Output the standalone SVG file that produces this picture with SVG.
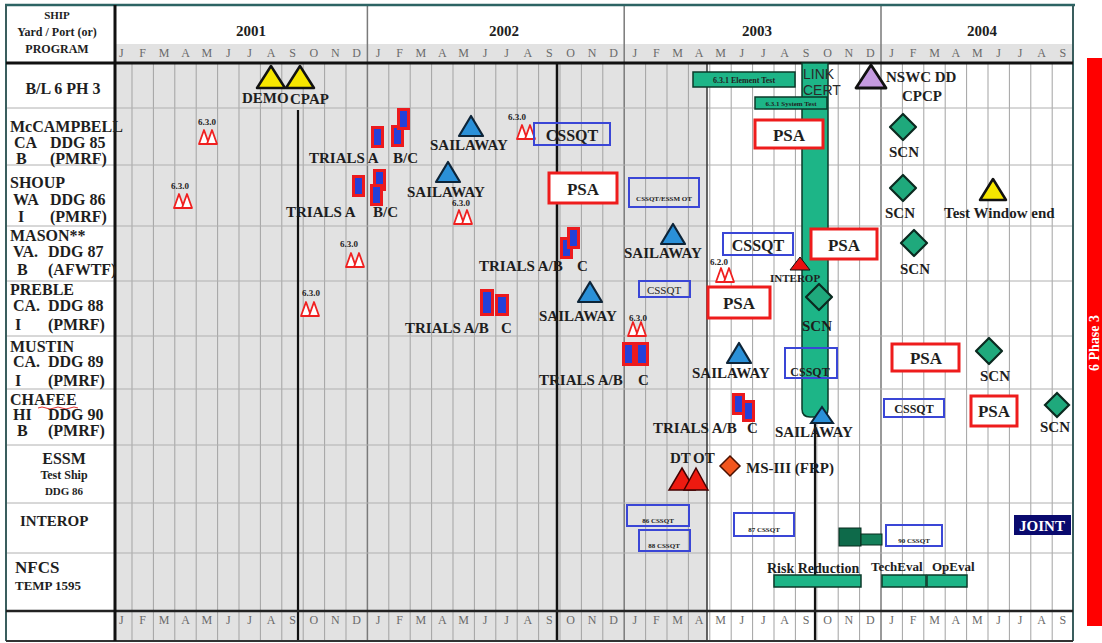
<svg xmlns="http://www.w3.org/2000/svg" xmlns:xlink="http://www.w3.org/1999/xlink" width="1102" height="643" viewBox="0 0 1102 643">
<style>
.t{font-family:"Liberation Serif",serif;font-weight:bold;fill:#1e1e1e}
.c{text-anchor:middle}
.mo{font-family:"Liberation Serif",serif;font-size:12px;fill:#6a6a6a;text-anchor:middle}
.grid{stroke:#a3a3a3;stroke-width:1;fill:none}
.row{stroke:#b0b0b0;stroke-width:1}
.bbox{fill:none;stroke:#3a46d6;stroke-width:2}
.psa{fill:#fff;stroke:#ee1c1c;stroke-width:3}
.grn{fill:#1db587;stroke:#0b3a2a;stroke-width:1.5}
.tiny{font-family:"Liberation Serif",serif;font-weight:bold;fill:#222;text-anchor:middle}
</style>
<defs>
<g id="trial"><rect x="0" y="0" width="13" height="22" fill="#ec1a1e"/><rect x="3" y="3" width="7" height="16" fill="#2440d8"/></g>
<g id="m630"><polygon points="1,15 6,1 11,15" fill="#fff" stroke="#f02020" stroke-width="1.8" stroke-linejoin="round"/><polygon points="9,15 14,1 19,15" fill="#fff" stroke="#f02020" stroke-width="1.8" stroke-linejoin="round"/></g>
<polygon id="btri" points="0,0 12,20 -12,20" fill="#2a90d8" stroke="#0d2438" stroke-width="2.2" stroke-linejoin="round"/>
<polygon id="ytri" points="0,0 14,22 -14,22" fill="#f6e600" stroke="#111" stroke-width="2.5" stroke-linejoin="round"/>
<polygon id="dia" points="0,-13 13,0 0,13 -13,0" fill="#1fa97c" stroke="#0b2a20" stroke-width="2.2" stroke-linejoin="round"/>
</defs>

<g id="frame">
<rect x="0" y="0" width="1102" height="643" fill="#fff"/>
<rect x="115" y="63" width="592" height="578" fill="#e2e2e2"/>
<rect x="115" y="44" width="958" height="19" fill="#e2e2e2"/>
<path class="grid" d="M132,63V641M153.4,63V641M174.8,63V641M196.2,63V641M217.6,63V641M239,63V641M260.4,63V641M281.8,63V641M303.2,63V641M324.6,63V641M346,63V641M388.8,63V641M410.2,63V641M431.6,63V641M453,63V641M474.4,63V641M495.8,63V641M517.2,63V641M538.6,63V641M560,63V641M581.4,63V641M602.8,63V641M645.6,63V641M667,63V641M688.4,63V641M709.8,63V641M731.2,63V641M752.6,63V641M774,63V641M795.4,63V641M816.8,63V641M838.2,63V641M859.6,63V641M902.4,63V641M923.8,63V641M945.2,63V641M966.6,63V641M988,63V641M1009.4,63V641M1030.8,63V641M1052.2,63V641"/>
<path d="M367.4,5V641M624.2,5V641M881,5V641" stroke="#7a7a7a" stroke-width="1.5"/>
<path class="row" d="M6,108H1073M6,165H1073M6,226H1073M6,281H1073M6,336H1073M6,389H1073M6,445H1073M6,503H1073M6,553H1073"/>
<path d="M298,110V641" stroke="#111" stroke-width="2.2"/>
<path d="M557,63V641" stroke="#111" stroke-width="2.5"/>
<path d="M707,63V641" stroke="#333" stroke-width="1.5"/>
<path d="M815,63V641" stroke="#111" stroke-width="2.2"/>
<path d="M5,5H1075" stroke="#2c6464" stroke-width="2.5"/>
<path d="M6,5V641M1073,5V641" stroke="#3a5e5e" stroke-width="2"/>
<path d="M6,63H1073" stroke="#111" stroke-width="3"/>
<path d="M6,611H1073" stroke="#222" stroke-width="2.5"/>
<path d="M6,641H1073" stroke="#333" stroke-width="2"/>
<path d="M115,5V641" stroke="#111" stroke-width="3"/>
</g>

<g id="header">
<text class="t c" x="57" y="19" font-size="11">SHIP</text>
<text class="t c" x="57" y="36" font-size="12">Yard / Port (or)</text>
<text class="t c" x="57" y="53" font-size="12">PROGRAM</text>
<text class="t c" x="251" y="36" font-size="15">2001</text>
<text class="t c" x="504" y="36" font-size="15">2002</text>
<text class="t c" x="757" y="36" font-size="15">2003</text>
<text class="t c" x="982" y="36" font-size="15">2004</text>
<text class="mo" y="57" x="121.3 142.7 164.1 185.5 206.9 228.3 249.7 271.1 292.5 313.9 335.3 356.7 378.1 399.5 420.9 442.3 463.7 485.1 506.5 527.9 549.3 570.7 592.1 613.5 634.9 656.3 677.7 699.1 720.5 741.9 763.3 784.7 806.1 827.5 848.9 870.3 891.7 913.1 934.5 955.9 977.3 998.7 1020.1 1041.5 1062.9">JFMAMJJASONDJFMAMJJASONDJFMAMJJASONDJFMAMJJAS</text>
<text class="mo" y="624" x="121.3 142.7 164.1 185.5 206.9 228.3 249.7 271.1 292.5 313.9 335.3 356.7 378.1 399.5 420.9 442.3 463.7 485.1 506.5 527.9 549.3 570.7 592.1 613.5 634.9 656.3 677.7 699.1 720.5 741.9 763.3 784.7 806.1 827.5 848.9 870.3 891.7 913.1 934.5 955.9 977.3 998.7 1020.1 1041.5 1062.9">JFMAMJJASONDJFMAMJJASONDJFMAMJJASONDJFMAMJJAS</text>
</g>

<g id="labels" class="t" font-size="16">
<text class="c" x="63" y="94">B/L 6 PH 3</text>
<text x="10" y="132">McCAMPBELL</text>
<text x="14" y="148">CA</text><text x="50" y="148">DDG 85</text>
<text x="16" y="164">B</text><text x="50" y="164">(PMRF)</text>
<text x="10" y="188">SHOUP</text>
<text x="13" y="205">WA</text><text x="50" y="205">DDG 86</text>
<text x="18" y="222">I</text><text x="50" y="222">(PMRF)</text>
<text x="10" y="241">MASON**</text>
<text x="13" y="257">VA.</text><text x="48" y="257">DDG 87</text>
<text x="17" y="275">B</text><text x="48" y="275">(AFWTF)</text>
<text x="10" y="295">PREBLE</text>
<text x="13" y="311">CA.</text><text x="48" y="311">DDG 88</text>
<text x="15" y="330">I</text><text x="48" y="330">(PMRF)</text>
<text x="10" y="352">MUSTIN</text>
<text x="13" y="367">CA.</text><text x="48" y="367">DDG 89</text>
<text x="15" y="386">I</text><text x="48" y="386">(PMRF)</text>
<text x="10" y="405">CHAFEE</text>
<path d="M38,408q4,-2 8,0t8,0t8,0t8,0t8,0" stroke="#e03030" stroke-width="1" fill="none"/>
<text x="13" y="420">HI</text><text x="48" y="420">DDG 90</text>
<text x="17" y="436">B</text><text x="48" y="436">(PMRF)</text>
<text class="c" x="64" y="464">ESSM</text>
<text class="c" x="64" y="479" font-size="12">Test Ship</text>
<text class="c" x="64" y="495" font-size="11">DDG 86</text>
<text x="20" y="526" font-size="15">INTEROP</text>
<text x="15" y="573" font-size="17">NFCS</text>
<text x="15" y="590" font-size="13">TEMP 1595</text>
</g>

<g id="linkcert">
<path d="M802,63V409Q802,417 810,417H820Q828,417 828,409V63Z" fill="#1db587" stroke="#0b3a2a" stroke-width="1.5"/>
<text x="803" y="79" font-family="Liberation Sans,sans-serif" font-size="14" fill="#2a2a2a">LINK</text>
<text x="803" y="95" font-family="Liberation Sans,sans-serif" font-size="14" fill="#2a2a2a">CERT</text>
</g>

<g id="bl6">
<use href="#ytri" x="271" y="66"/>
<use href="#ytri" x="300" y="66"/>
<text class="t" x="242" y="103" font-size="15">DEMO</text>
<text class="t" x="290" y="104" font-size="15">CPAP</text>
<rect class="grn" x="693" y="72" width="102" height="15"/>
<text class="tiny" x="744" y="83" font-size="8">6.3.1 Element Test</text>
<rect class="grn" x="755" y="97" width="72" height="12"/>
<text class="tiny" x="791" y="106" font-size="7">6.3.1 System Test</text>
<polygon points="871,65 886,88 856,88" fill="#c59be0" stroke="#111" stroke-width="2.8" stroke-linejoin="round"/>
<text class="t" x="886" y="82" font-size="15">NSWC DD</text>
<text class="t" x="902" y="101" font-size="15">CPCP</text>
</g>

<g id="mccampbell">
<text class="t" x="198" y="125" font-size="9">6.3.0</text>
<use href="#m630" x="198" y="129"/>
<use href="#trial" x="371" y="126"/>
<use href="#trial" x="391" y="125"/>
<use href="#trial" x="397" y="108"/>
<text class="t" x="309" y="163" font-size="15">TRIALS A</text>
<text class="t" x="393" y="163" font-size="15">B/C</text>
<use href="#btri" x="471" y="116"/>
<text class="t" x="430" y="150" font-size="15">SAILAWAY</text>
<text class="t" x="508" y="120" font-size="9">6.3.0</text>
<use href="#m630" x="516" y="124"/>
<rect class="bbox" x="534" y="123" width="76" height="22"/>
<text class="t c" x="572" y="141" font-size="16">CSSQT</text>
<rect class="psa" x="755" y="120" width="68" height="28"/>
<text class="t c" x="789" y="141" font-size="17">PSA</text>
<use href="#dia" x="903" y="127"/>
<text class="t c" x="904" y="157" font-size="15">SCN</text>
</g>

<g id="shoup">
<text class="t" x="171" y="189" font-size="9">6.3.0</text>
<use href="#m630" x="173" y="193"/>
<use href="#trial" x="352" y="175"/>
<use href="#trial" x="373" y="169"/>
<use href="#trial" x="370" y="184"/>
<text class="t" x="286" y="217" font-size="15">TRIALS A</text>
<text class="t" x="373" y="217" font-size="15">B/C</text>
<use href="#btri" x="448" y="162"/>
<text class="t" x="407" y="197" font-size="15">SAILAWAY</text>
<text class="t" x="452" y="206" font-size="9">6.3.0</text>
<use href="#m630" x="453" y="209"/>
<rect class="psa" x="549" y="173" width="68" height="30"/>
<text class="t c" x="583" y="195" font-size="17">PSA</text>
<rect class="bbox" x="629" y="178" width="70" height="29"/>
<text class="tiny" x="664" y="201" font-size="7">CSSQT/ESSM OT</text>
<use href="#dia" x="903" y="188"/>
<text class="t c" x="900" y="218" font-size="15">SCN</text>
<polygon points="993,179 1006,200 980,200" fill="#f6e600" stroke="#111" stroke-width="2.5" stroke-linejoin="round"/>
<text class="t" x="944" y="218" font-size="15">Test Window end</text>
</g>

<g id="mason">
<text class="t" x="340" y="247" font-size="9">6.3.0</text>
<use href="#m630" x="345" y="252"/>
<use href="#trial" x="560" y="237"/>
<use href="#trial" x="567" y="227"/>
<text class="t" x="479" y="271" font-size="15">TRIALS A/B</text>
<text class="t" x="577" y="271" font-size="15">C</text>
<use href="#btri" x="673" y="224"/>
<text class="t" x="624" y="258" font-size="15">SAILAWAY</text>
<text class="t" x="710" y="265" font-size="9">6.2.0</text>
<use href="#m630" x="715" y="267"/>
<rect class="bbox" x="723" y="233" width="70" height="22"/>
<text class="t c" x="758" y="251" font-size="16">CSSQT</text>
<rect class="psa" x="811" y="229" width="66" height="30"/>
<text class="t c" x="844" y="251" font-size="17">PSA</text>
<polygon points="800,257 810,270 790,270" fill="#e81212" stroke="#111" stroke-width="1"/>
<text class="t" x="770" y="282" font-size="11">INTEROP</text>
<use href="#dia" x="914" y="243"/>
<text class="t c" x="915" y="274" font-size="15">SCN</text>
</g>

<g id="preble">
<text class="t" x="302" y="296" font-size="9">6.3.0</text>
<use href="#m630" x="300" y="301"/>
<rect x="480" y="289" width="14" height="27" fill="#ec1a1e"/><rect x="483" y="292" width="8" height="21" fill="#2440d8"/>
<rect x="495" y="294" width="14" height="22" fill="#ec1a1e"/><rect x="498" y="297" width="8" height="16" fill="#2440d8"/>
<text class="t" x="405" y="333" font-size="15">TRIALS A/B</text>
<text class="t" x="501" y="333" font-size="15">C</text>
<use href="#btri" x="590" y="282"/>
<text class="t" x="539" y="321" font-size="15">SAILAWAY</text>
<text class="t" x="629" y="321" font-size="9">6.3.0</text>
<use href="#m630" x="627" y="321"/>
<rect class="bbox" x="639" y="281" width="51" height="16"/>
<text x="664" y="294" font-family="Liberation Serif,serif" font-size="11" fill="#222" text-anchor="middle">CSSQT</text>
<rect class="psa" x="708" y="287" width="62" height="31"/>
<text class="t c" x="739" y="309" font-size="17">PSA</text>
<use href="#dia" x="819" y="297"/>
<text class="t c" x="817" y="331" font-size="15">SCN</text>
</g>

<g id="mustin">
<rect x="622" y="342" width="13" height="24" fill="#ec1a1e"/><rect x="625" y="345" width="7" height="18" fill="#2440d8"/>
<rect x="635" y="342" width="14" height="24" fill="#ec1a1e"/><rect x="638" y="345" width="8" height="18" fill="#2440d8"/>
<text class="t" x="539" y="385" font-size="15">TRIALS A/B</text>
<text class="t" x="638" y="385" font-size="15">C</text>
<use href="#btri" x="739" y="343"/>
<text class="t" x="692" y="378" font-size="15">SAILAWAY</text>
<rect class="bbox" x="785" y="348" width="52" height="30"/>
<text class="t c" x="810" y="376" font-size="12">CSSQT</text>
<rect class="psa" x="892" y="344" width="67" height="27"/>
<text class="t c" x="926" y="364" font-size="17">PSA</text>
<use href="#dia" x="989" y="351"/>
<text class="t c" x="995" y="381" font-size="15">SCN</text>
</g>

<g id="chafee">
<use href="#trial" x="732" y="393"/>
<use href="#trial" x="742" y="400"/>
<text class="t" x="653" y="433" font-size="15">TRIALS A/B</text>
<text class="t" x="747" y="433" font-size="15">C</text>
<polygon points="822,407 833,423 811,423" fill="#2a90d8" stroke="#0d2438" stroke-width="2"/>
<text class="t" x="775" y="437" font-size="15">SAILAWAY</text>
<rect class="bbox" x="884" y="399" width="60" height="18"/>
<text class="t c" x="914" y="413" font-size="12">CSSQT</text>
<rect class="psa" x="971" y="396" width="46" height="30"/>
<text class="t c" x="994" y="417" font-size="17">PSA</text>
<polygon points="1057,393 1069,405 1057,417 1045,405" fill="#1fa97c" stroke="#0b2a20" stroke-width="2.2"/>
<text class="t" x="1040" y="432" font-size="15">SCN</text>
</g>

<g id="essm">
<text class="t" x="670" y="463" font-size="15">DT</text>
<text class="t" x="693" y="463" font-size="15">OT</text>
<polygon points="682,468 695,490 669,490" fill="#ee1a10" stroke="#400" stroke-width="1.5"/>
<polygon points="696,468 708,490 684,490" fill="#ee1a10" stroke="#400" stroke-width="1.5"/>
<polygon points="730,456 740,466 730,476 720,466" fill="#f2561e" stroke="#4a1000" stroke-width="1.5"/>
<text class="t" x="746" y="473" font-size="15">MS-III (FRP)</text>
</g>

<g id="interop">
<rect class="bbox" x="627" y="505" width="62" height="21"/>
<text class="tiny" x="658" y="523" font-size="7">86 CSSQT</text>
<rect class="bbox" x="639" y="530" width="51" height="21"/>
<text class="tiny" x="664" y="548" font-size="7">88 CSSQT</text>
<rect class="bbox" x="734" y="513" width="60" height="23"/>
<text class="tiny" x="764" y="532" font-size="7">87 CSSQT</text>
<rect x="839" y="528" width="22" height="18" fill="#0e6a4a" stroke="#062a1c" stroke-width="1"/>
<rect x="861" y="534" width="21" height="11" fill="#14805a" stroke="#062a1c" stroke-width="1"/>
<rect class="bbox" x="886" y="525" width="56" height="21"/>
<text class="tiny" x="914" y="543" font-size="7">90 CSSQT</text>
<rect x="1014" y="515" width="57" height="20" fill="#0a0a6e"/>
<text class="t c" x="1042" y="531" font-size="15" style="fill:#fff">JOINT</text>
</g>

<g id="nfcs">
<text class="t" x="767" y="573" font-size="14">Risk Reduction</text>
<rect class="grn" x="774" y="575" width="87" height="12"/>
<text class="t" x="871" y="571" font-size="13">TechEval</text>
<text class="t" x="932" y="571" font-size="13">OpEval</text>
<rect class="grn" x="882" y="575" width="44" height="12"/>
<rect class="grn" x="927" y="575" width="40" height="12"/>
</g>

<g id="phase">
<rect x="1087" y="58" width="15" height="568" fill="#ff0000"/>
<text x="1099" y="343" transform="rotate(-90 1099 343)" font-family="Liberation Serif,serif" font-weight="bold" font-size="14" fill="#fff" text-anchor="middle">6 Phase 3</text>
</g>
</svg>
